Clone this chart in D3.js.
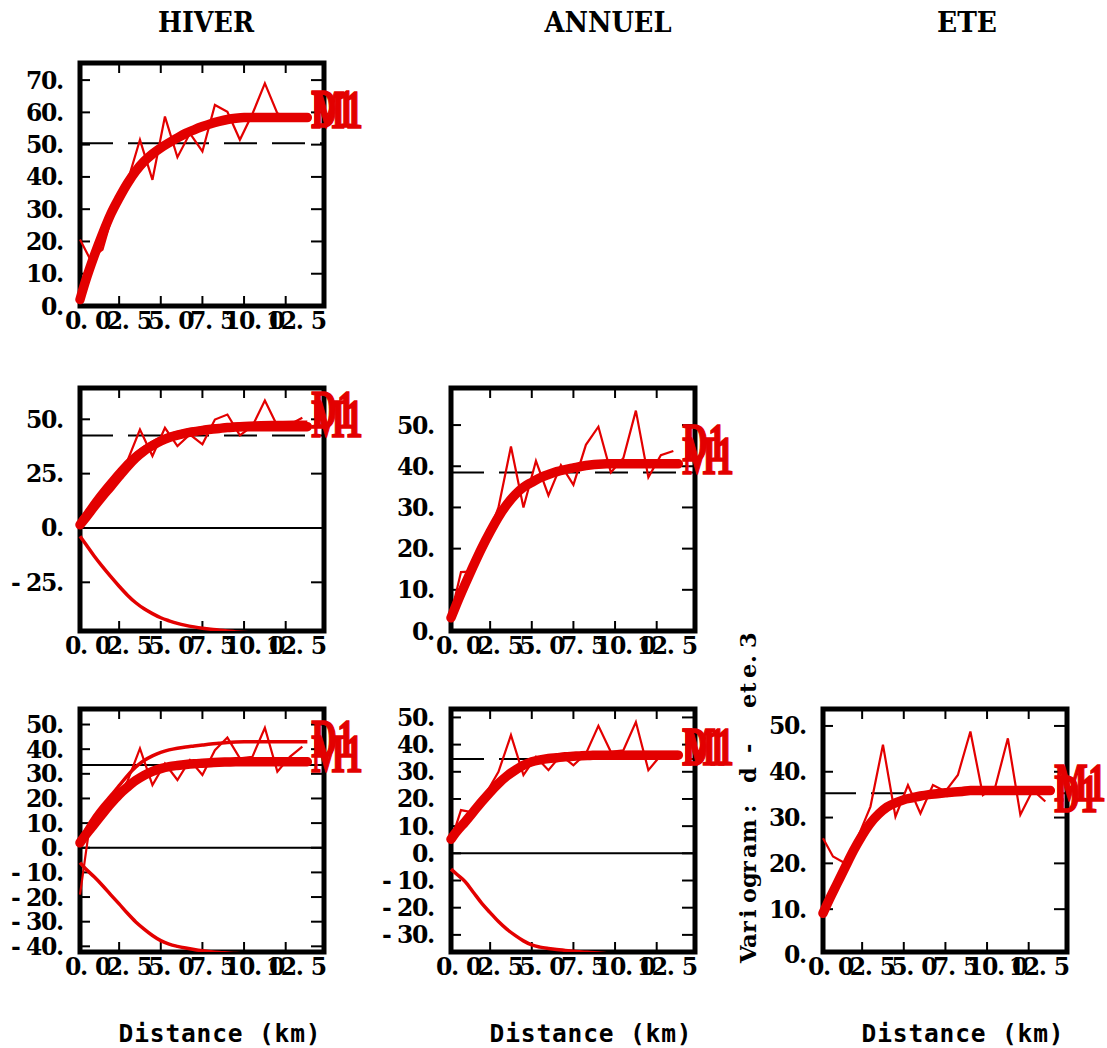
<!DOCTYPE html>
<html><head><meta charset="utf-8">
<script src="https://cdn.jsdelivr.net/npm/d3@7"></script>
<style>body{margin:0;background:#fff} svg{display:block}</style>
</head><body><svg id="c" width="1107" height="1048"></svg>
<script>
// ---------------- data ----------------
const lags   = [0.15,0.75,1.5,2.25,3,3.75,4.5,5.25,6,6.75,7.5,8.25,9,9.75,10.5,11.25,12,12.75,13.5];
const modelX = [0.15,0.5,1,1.5,2,2.5,3,3.5,4,4.5,5,5.5,6,6.5,7,7.5,8,8.5,9,9.5,10,11,12,13,13.8];
const xTicks = [0,2.5,5,7.5,10,12.5];
const xTickLabels = ["0.0","2.5","5.0","7.5","10.0","12.5"];
const colTitles = ["HIVER","ANNUEL","ETE"];
const xLabel = "Distance (km)";
const yLabel = "Variogram : d -  ete.3";
const expLabel = "D1", modelLabel = "M1";

// experimental variograms (thin lines)
const expHiver       = [20.6,14.6,17.5,31,38.5,51.5,39.1,58.7,46.1,53.5,47.9,62.3,60.2,51.5,59.5,69.0,59.7,58.0,58.6];
const expHiverAnnuel = [2.5,8,15,24,31,45.3,33.1,46.1,37.7,43,38.5,49.9,52.2,42.6,46.9,58.6,46.9,47.6,50.7];
const expAnnuel      = [4,14.3,14.5,22,30,44.8,30.0,41.3,32.9,40.3,35.5,45.2,49.6,38.5,42.0,53.5,37.3,42.7,43.7];
const expHiverEte    = [-19,9.9,13,19,27,40.3,25.4,34.2,27.5,35.6,29.5,39.6,44.7,36.3,36.9,48.7,30.9,36.9,41.0];
const expAnnuelEte   = [4.5,15.9,15,22,30,43.5,28.8,35.5,30.6,36.1,32.4,36.7,46.9,37.3,37.9,48.3,30.6,36.1,36.1];
const expEte         = [25.5,21.5,20,25.8,32.4,45.9,30.2,37.1,30.9,37.1,35.7,39.3,48.8,34.9,36.8,47.3,30.6,36.0,33.5];

// fitted models (thick lines)
const modHiver       = [2,8,15.5,22.3,28.5,33.5,38,41.8,44.8,47.1,49,50.6,52.1,53.5,54.6,55.6,56.5,57.2,57.8,58.2,58.4,58.4,58.4,58.4,58.4];
const modHiverAnnuel = [1.5,4.8,9.8,14.6,19.1,23.8,28.3,32.3,35.5,37.9,40,41.6,42.7,43.6,44.3,44.9,45.4,45.8,46.2,46.4,46.6,46.6,46.6,46.6,46.6];
const modAnnuel      = [3.2,6.7,11.4,15.9,20.2,24.1,27.7,30.7,33.1,34.9,36.1,37.2,38.0,38.7,39.2,39.6,40.0,40.3,40.5,40.6,40.6,40.6,40.6,40.6,40.6];
const modHiverEte    = [2,5.3,9.5,13.8,17.9,21.6,24.6,27.3,29.4,31,32.1,32.9,33.4,33.8,34.1,34.3,34.5,34.7,34.8,34.9,34.9,34.9,34.9,34.9,34.9];
const modAnnuelEte   = [5.2,8.1,11.6,15.3,19,22.5,25.7,28.4,30.6,32.4,33.7,34.4,34.9,35.2,35.5,35.7,35.9,36,36.1,36.1,36.1,36.1,36.1,36.1,36.1];
const modEte         = [9.1,11.9,15.6,19.3,22.9,26.1,28.8,30.8,32.3,33.2,33.9,34.3,34.7,35.0,35.2,35.4,35.6,35.7,35.9,35.9,35.9,35.9,35.9,35.9,35.9];

// envelopes of the cross variograms
const envUpHiverAnnuel = [3.8,7.5,12.9,17.8,22.4,26.8,30.9,34.4,37.2,39.4,41.3,42.7,43.9,44.8,45.5,46.1,46.6,47.0,47.4,47.8,48.1,48.4,48.5,48.6,48.6];
const envLoHiverAnnuel = [-3.8,-7.5,-12.9,-17.8,-22.4,-26.8,-30.9,-34.4,-37.2,-39.4,-41.3,-42.7,-43.9,-44.8,-45.5,-46.1,-46.6,-47.0,-47.4,-47.8,-48.1,-48.4,-48.5,-48.6,-48.6];
const envUpHiverEte    = [3.3,7.5,12.8,17.2,21.1,25.2,29.3,32.8,35.4,37.3,38.7,39.7,40.4,40.9,41.3,41.7,42.1,42.4,42.7,42.9,43,43,43,43,43];
const envLoHiverEte    = [-6,-8.6,-11.8,-15.3,-19.1,-22.8,-26.6,-30.1,-33,-35.6,-37.7,-39.1,-40,-40.7,-41.3,-41.8,-42.2,-42.5,-42.7,-42.9,-43,-43,-43,-43,-43];
const envUpAnnuelEte   = [5.8,7.7,10.4,14.4,18.4,21.8,25.1,27.9,30.2,32.2,33.7,34.5,35.0,35.4,35.7,36.0,36.3,36.5,36.7,36.9,37,37.1,37.1,37.1,37.1];
const envLoAnnuelEte   = [-5.8,-7.7,-10.4,-14.4,-18.4,-21.8,-25.1,-27.9,-30.2,-32.2,-33.7,-34.5,-35.0,-35.4,-35.7,-36.0,-36.3,-36.5,-36.7,-36.9,-37,-37.1,-37.1,-37.1,-37.1];

// horizontal reference values (variance / covariance)
const sills = [50.4, 42.5, 38.5, 33.6, 34.7, 35.3];

const yTicksHiver   = [0,10,20,30,40,50,60,70];
const yTicksHA      = [-25,0,25,50];
const yTicksAnnuel  = [0,10,20,30,40,50];
const yTicksHE      = [-40,-30,-20,-10,0,10,20,30,40,50];
const yTicksAE      = [-30,-20,-10,0,10,20,30,40,50];
const yTicksEte     = [0,10,20,30,40,50];

// ---------------- layout ----------------
const colL = [80, 451, 823];
const rowT = [63, 388, 709];
const W = 244, H = 243;
const RED = "#e30000";
const xDomain = [0.15, 14.8];

const panels = [
  {r:0,c:0, yd:[0,75.3],    yt:yTicksHiver,  exp:expHiver,       mod:modHiver,       sill:sills[0], cross:false, dash:"33,15"},
  {r:1,c:0, yd:[-47.4,64.4],yt:yTicksHA,     exp:expHiverAnnuel, mod:modHiverAnnuel, sill:sills[1], cross:true,  dash:"33,15", up:envUpHiverAnnuel, lo:envLoHiverAnnuel},
  {r:1,c:1, yd:[0,59],      yt:yTicksAnnuel, exp:expAnnuel,      mod:modAnnuel,      sill:sills[2], cross:false, dash:"33,15"},
  {r:2,c:0, yd:[-42.3,56.3],yt:yTicksHE,     exp:expHiverEte,    mod:modHiverEte,    sill:sills[3], cross:true,  dash:null, up:envUpHiverEte, lo:envLoHiverEte},
  {r:2,c:1, yd:[-36.3,53.1],yt:yTicksAE,     exp:expAnnuelEte,   mod:modAnnuelEte,   sill:sills[4], cross:true,  dash:"33,15", up:envUpAnnuelEte, lo:envLoAnnuelEte},
  {r:2,c:2, yd:[0.65,53.7], yt:yTicksEte,    exp:expEte,         mod:modEte,         sill:sills[5], cross:false, dash:"33,15"},
];

const svg = d3.select("#c");
const defs = svg.append("defs");

// monospace-cell text (each character placed in a fixed-width cell)
function cellText(parent, str, x0, y, cell, font, size, weight, fill) {
  const xs = Array.from(str).map((ch, i) => (x0 + i * cell).toFixed(2)).join(" ");
  return parent.append("text").attr("x", xs).attr("y", y)
    .attr("font-family", font).attr("font-size", size).attr("font-weight", weight)
    .attr("fill", fill || "#000").attr("xml:space", "preserve").text(str);
}

const TICKFONT = "'DejaVu Serif'", CELL = 15, TICKSIZE = 23.5;

// column titles
const titleX = [206, 608, 967];
const titleW = [96, 127, 60];
colTitles.forEach((t, i) => {
  svg.append("text").attr("x", titleX[i]).attr("y", 32).attr("text-anchor", "middle")
    .attr("font-family", "'DejaVu Serif'").attr("font-weight", "bold").attr("font-size", 28)
    .attr("textLength", titleW[i]).attr("lengthAdjust", "spacingAndGlyphs")
    .text(t);
});

panels.forEach((p, idx) => {
  const L = colL[p.c], T = rowT[p.r], R = L + W, B = T + H;
  const x = d3.scaleLinear().domain(xDomain).range([L, R]);
  const y = d3.scaleLinear().domain(p.yd).range([B, T]);
  const g = svg.append("g");

  // reference lines
  const sl = g.append("line").attr("x1", L).attr("x2", R).attr("y1", y(p.sill)).attr("y2", y(p.sill))
    .attr("stroke", "#000").attr("stroke-width", 2);
  if (p.dash) sl.attr("stroke-dasharray", p.dash);
  if (p.cross) {
    g.append("line").attr("x1", L).attr("x2", R).attr("y1", y(0)).attr("y2", y(0))
      .attr("stroke", "#000").attr("stroke-width", 2);
  }

  // ticks (inward)
  const tk = g.append("g").attr("stroke", "#000").attr("stroke-width", 2);
  p.yt.forEach(v => {
    const yy = y(v);
    if (yy > B - 2 || yy < T + 2) return;
    tk.append("line").attr("x1", L).attr("x2", L + 10).attr("y1", yy).attr("y2", yy);
    tk.append("line").attr("x1", R - 13).attr("x2", R).attr("y1", yy).attr("y2", yy);
  });
  xTicks.forEach(v => {
    const xx = x(v);
    if (xx < L + 2 || xx > R - 2) return;
    tk.append("line").attr("x1", xx).attr("x2", xx).attr("y1", T).attr("y2", T + 10);
    tk.append("line").attr("x1", xx).attr("x2", xx).attr("y1", B - 10).attr("y2", B);
  });

  // frame
  g.append("rect").attr("x", L).attr("y", T).attr("width", W).attr("height", H)
    .attr("fill", "none").attr("stroke", "#000").attr("stroke-width", 5);

  // tick labels
  p.yt.forEach(v => {
    const s = v + ".";
    cellText(g, s, L - 9 - s.length * CELL, y(v) + 8.5, CELL, TICKFONT, TICKSIZE, "bold");
  });
  xTicks.forEach((v, i) => {
    const s = xTickLabels[i];
    cellText(g, s, x(v) + 10 - s.length * CELL / 2, B + 23, CELL, TICKFONT, TICKSIZE, "bold");
  });

  // red curves
  const clipId = "clip" + idx;
  defs.append("clipPath").attr("id", clipId).append("rect")
    .attr("x", L - 4).attr("y", T).attr("width", W + 8).attr("height", H);
  const lineM = d3.line().x((d, i) => x(modelX[i])).y(d => y(d)).curve(d3.curveMonotoneX);
  const lineE = d3.line().x((d, i) => x(lags[i])).y(d => y(d));
  if (p.up) {
    const env = g.append("g").attr("clip-path", `url(#${clipId})`);
    [p.up, p.lo].forEach(arr => env.append("path").attr("d", lineM(arr))
      .attr("fill", "none").attr("stroke", RED).attr("stroke-width", 3.5));
  }
  g.append("path").attr("d", lineE(p.exp)).attr("fill", "none")
    .attr("stroke", RED).attr("stroke-width", 2.2);
  g.append("path").attr("d", lineM(p.mod)).attr("fill", "none")
    .attr("stroke", RED).attr("stroke-width", 9.5).attr("stroke-linecap", "round");

  // D1 / M1 labels
  const lx = x(modelX[modelX.length - 1]) + 4;
  [[expLabel, p.exp[p.exp.length - 1]], [modelLabel, p.mod[p.mod.length - 1]]].forEach(([t, v]) => {
    g.append("text").attr("transform", `translate(${lx},${y(v) + 10}) scale(0.66,1)`)
      .attr("font-family", "'Liberation Serif'").attr("font-weight", "bold").attr("font-size", 54)
      .attr("fill", RED).attr("stroke", RED).attr("stroke-width", 1.6).text(t);
  });
});

// x axis titles
colL.forEach(L => {
  const cx = L + W / 2 + 18, cell = 15.6;
  cellText(svg, xLabel, cx - xLabel.length * cell / 2, 1042, cell, "'DejaVu Sans Mono'", 24.5, "bold");
});

// vertical label
const vg = svg.append("g").attr("transform", "translate(756,963) rotate(-90)");
cellText(vg, yLabel, 0, 0, 15, TICKFONT, 22.5, "bold");
</script></body></html>
